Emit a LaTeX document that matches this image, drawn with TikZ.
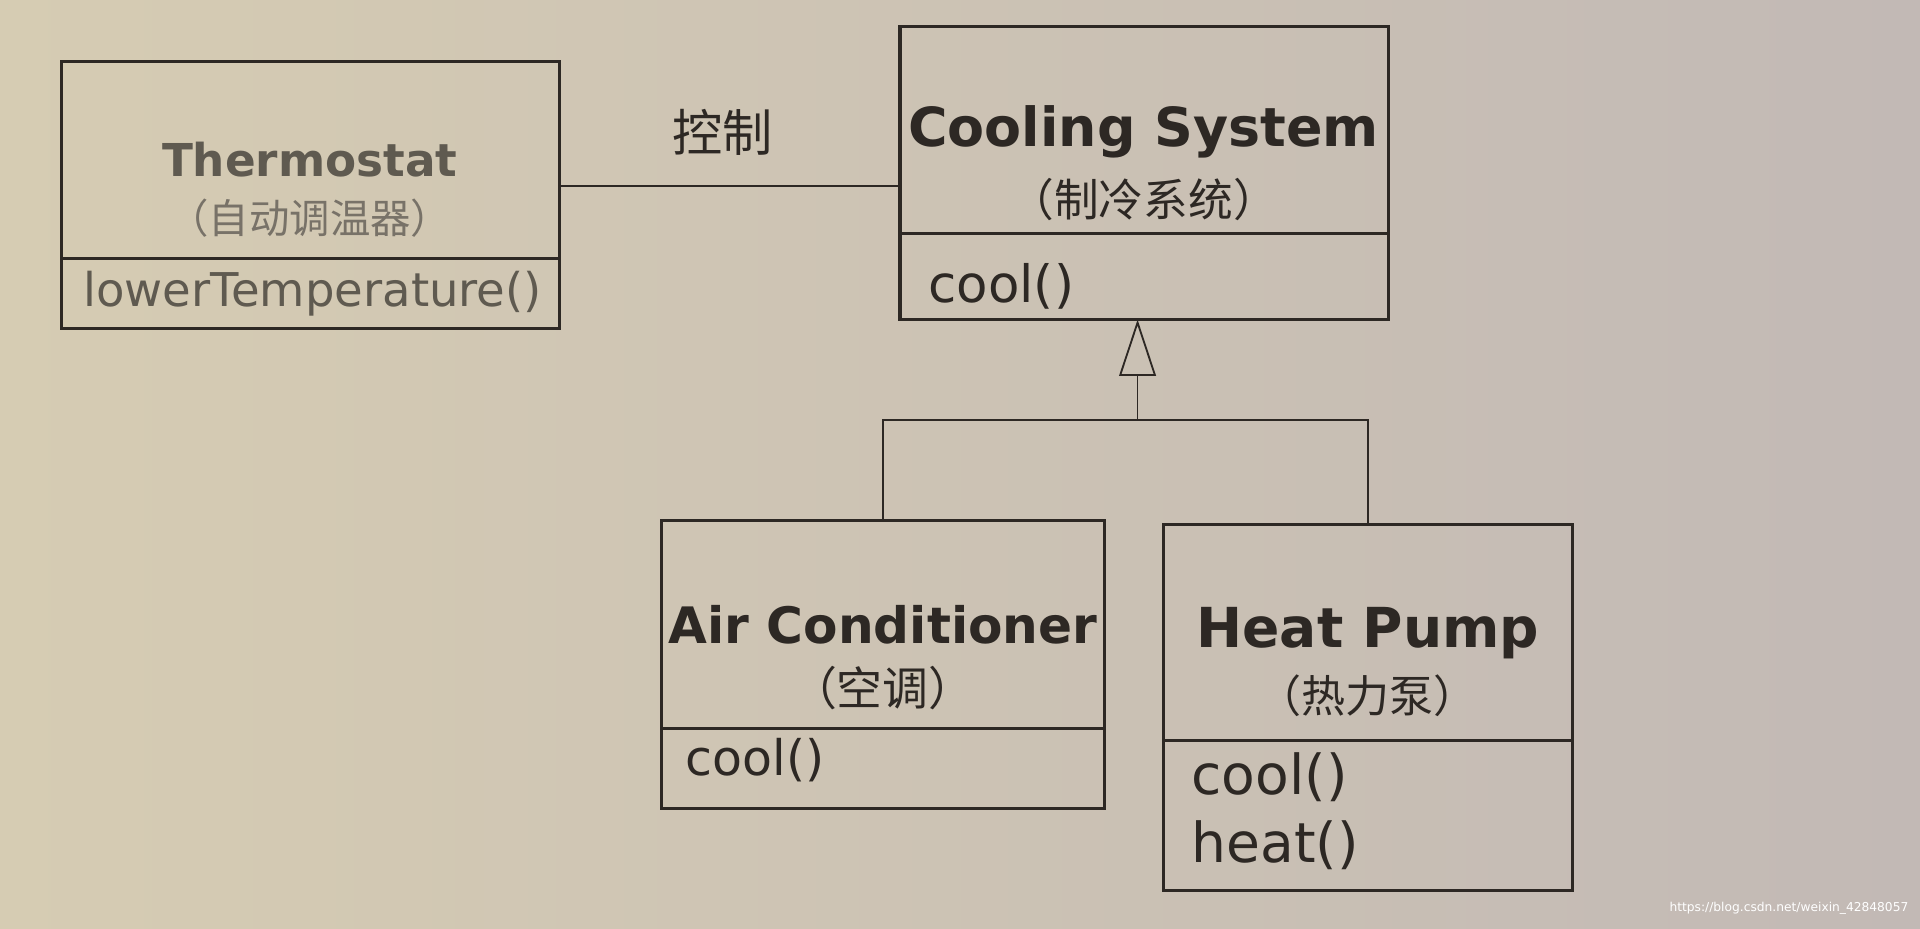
\documentclass[tikz,border=0pt]{standalone}
\usepackage{fontspec}
\setmainfont{DejaVu Sans}
\newfontfamily\cjk{Noto Sans CJK SC}
\usetikzlibrary{%
  arrows.meta,%
  calc,%
}

\definecolor{paperL}{RGB}{214,204,179}
\definecolor{paperM}{RGB}{206,198,184}
\definecolor{paperR}{RGB}{194,185,181}
\definecolor{ink}{RGB}{45,40,36}
\definecolor{inkpale}{RGB}{95,90,80}
\definecolor{inkgrey}{RGB}{120,114,104}

\tikzset{
  classbox/.style={draw=ink, line width=2.5pt, inner sep=0pt, outer sep=0pt,
    anchor=north west},
  clsname/.style={font=\bfseries\fontsize{#1}{#1}\selectfont, text=ink},
  cnname/.style={font=\cjk\fontsize{#1}{#1}\selectfont, text=ink},
  method/.style={font=\fontsize{#1}{#1}\selectfont, text=ink, anchor=west,
    inner sep=0pt},
  genline/.style={draw=ink, line width=1.5pt},
  assocline/.style={draw=ink, line width=1.8pt},
}

\begin{document}
\begin{tikzpicture}[x=1pt, y=-1pt]

      \useasboundingbox (0, 0) rectangle (1568, 758);
      \shade [left color=paperL, middle color=paperM, right color=paperR]
        (0, 0) rectangle (1568, 758);

      % Thermostat
      \node[classbox, minimum width=407pt, minimum height=161pt] (thermo) at (50, 50) {};
      \node[classbox, minimum width=407pt, minimum height=57pt] (thermoops) at (thermo.south west) {};
      \node[clsname=37, text=inkpale] (thermoname) at (253, 130) {Thermostat};
      \node[cnname=33, text=inkgrey] (thermocn) at (253, 178) {（自动调温器）};
      \node[method=38, text=inkpale] (lowertemp) at (68, 240) {lowerTemperature()};

      % Cooling System
      \node[classbox, minimum width=399pt, minimum height=169pt] (cs) at (735, 22) {};
      \node[classbox, minimum width=399pt, minimum height=70pt] (csops) at (cs.south west) {};
      \node[clsname=44] (csname) at (934, 108) {Cooling System};
      \node[cnname=36.5] (cscn) at (934, 163) {（制冷系统）};
      \node[method=42] (cscool) at (758, 234) {cool()};

      % Air Conditioner
      \node[classbox, minimum width=362pt, minimum height=170pt] (ac) at (540, 425) {};
      \node[classbox, minimum width=362pt, minimum height=65pt] (acops) at (ac.south west) {};
      \node[clsname=41] (acname) at (721, 510) {Air Conditioner};
      \node[cnname=37.5] (accn) at (721, 562) {（空调）};
      \node[method=40] (accool) at (560, 621) {cool()};

      % Heat Pump
      \node[classbox, minimum width=334pt, minimum height=177pt] (hp) at (950, 428) {};
      \node[classbox, minimum width=334pt, minimum height=122pt] (hpops) at (hp.south west) {};
      \node[clsname=45] (hpname) at (1117, 517) {Heat Pump};
      \node[cnname=36] (hpcn) at (1117, 568) {（热力泵）};
      \node[method=45] (hpcool) at (973, 635) {cool()};
      \node[method=45] (hpheat) at (973, 690) {heat()};

      % association
      \coordinate (assoc) at (0, 152);
      \draw[assocline] (thermo.east |- assoc) -- (cs.west |- assoc);
      \node[cnname=41] (ctl) at (590, 108) {控制};

      % generalization
      \coordinate (join) at (929, 343);
      \draw[genline] (ac.north) |- (join) -| (hp.north);
      \draw[genline, -{Triangle[open, length=46pt, width=30pt, line width=1.5pt]}]
        (join) -- (join |- csops.south);

      \node[anchor=east, text=white, font=\fontsize{10}{10}\selectfont] (wm)
        at (1562, 742) {https://blog.csdn.net/weixin\_42848057};

    \end{tikzpicture}
\end{document}
